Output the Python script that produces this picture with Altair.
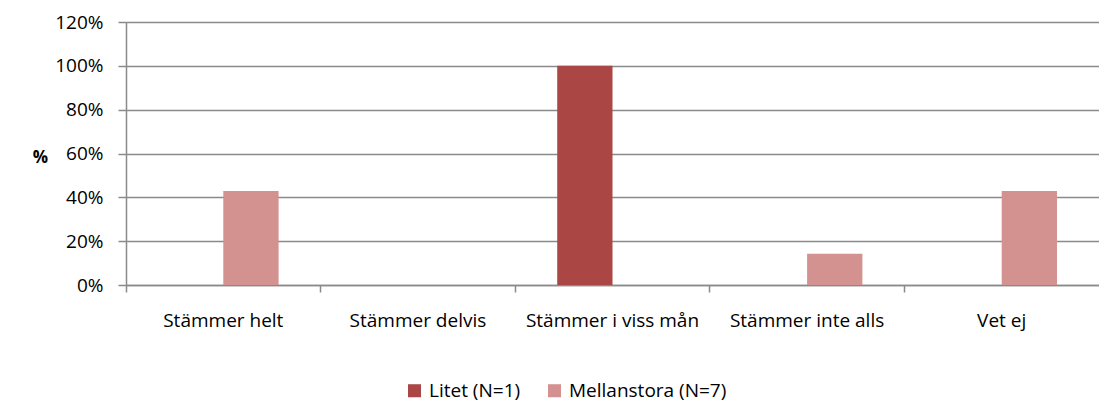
import altair as alt
import pandas as pd

# Response categories and group shares (fraction of respondents)
categories = ["Stämmer helt", "Stämmer delvis", "Stämmer i viss mån", "Stämmer inte alls", "Vet ej"]
groups = ["Litet (N=1)", "Mellanstora (N=7)"]
litet = [0.0, 0.0, 1.0, 0.0, 0.0]
mellanstora = [0.4286, 0.0, 0.0, 0.1429, 0.4286]
colors = ["#AA4744", "#D39190"]

rows = []
for i, cat in enumerate(categories):
    rows.append({"kategori": cat, "grupp": groups[0], "andel": litet[i]})
    rows.append({"kategori": cat, "grupp": groups[1], "andel": mellanstora[i]})
df = pd.DataFrame(rows)

FONT = "Open Sans"
GRID = "#8A8A8A"

chart = (
    alt.Chart(df)
    .mark_bar()
    .encode(
        # ticks sit on category boundaries, labels stay at the band centre
        x=alt.X("kategori:N", sort=categories,
                scale=alt.Scale(domain=categories, paddingInner=0, paddingOuter=0),
                axis=alt.Axis(title=None, bandPosition=0,
                              labelAngle=0, labelPadding=19, labelFontSize=19,
                              labelFont=FONT, labelColor="#000000",
                              ticks=True, tickSize=7, tickColor=GRID, tickWidth=1.5,
                              domainColor=GRID, domainWidth=1.5, grid=False)),
        xOffset=alt.XOffset("grupp:N", sort=groups,
                            scale=alt.Scale(paddingInner=0, paddingOuter=0.76)),
        y=alt.Y("andel:Q", scale=alt.Scale(domain=[0, 1.2]),
                axis=alt.Axis(title="%", titleAngle=0, titleX=-86, titleY=135,
                              titleAlign="center", titleBaseline="middle",
                              titleFont=FONT, titleFontSize=17, titleFontWeight="bold",
                              titleColor="#000000",
                              format=".0%", values=[0, 0.2, 0.4, 0.6, 0.8, 1.0, 1.2],
                              labelFont=FONT, labelFontSize=19, labelColor="#000000",
                              labelPadding=15, tickSize=8, tickColor=GRID, tickWidth=1.5,
                              domainColor=GRID, domainWidth=1.5,
                              grid=True, gridColor=GRID, gridWidth=1.5)),
        color=alt.Color("grupp:N", sort=groups,
                        scale=alt.Scale(domain=groups, range=colors),
                        legend=alt.Legend(title=None, orient="none", direction="horizontal",
                                          legendX=279, legendY=359,
                                          symbolType="square", symbolSize=170,
                                          symbolStrokeWidth=0, labelFont=FONT,
                                          labelFontSize=19, labelColor="#000000",
                                          labelOffset=5, columnPadding=24)),
    )
    .properties(width=973, height=263,
                autosize=alt.AutoSizeParams(type="none"),
                padding={"left": 126, "top": 22, "right": 0, "bottom": 118})
    .configure_view(strokeWidth=0)
    .configure(background="#FFFFFF")
)

chart.save("out.html", embed_options={"renderer": "svg", "actions": False})
